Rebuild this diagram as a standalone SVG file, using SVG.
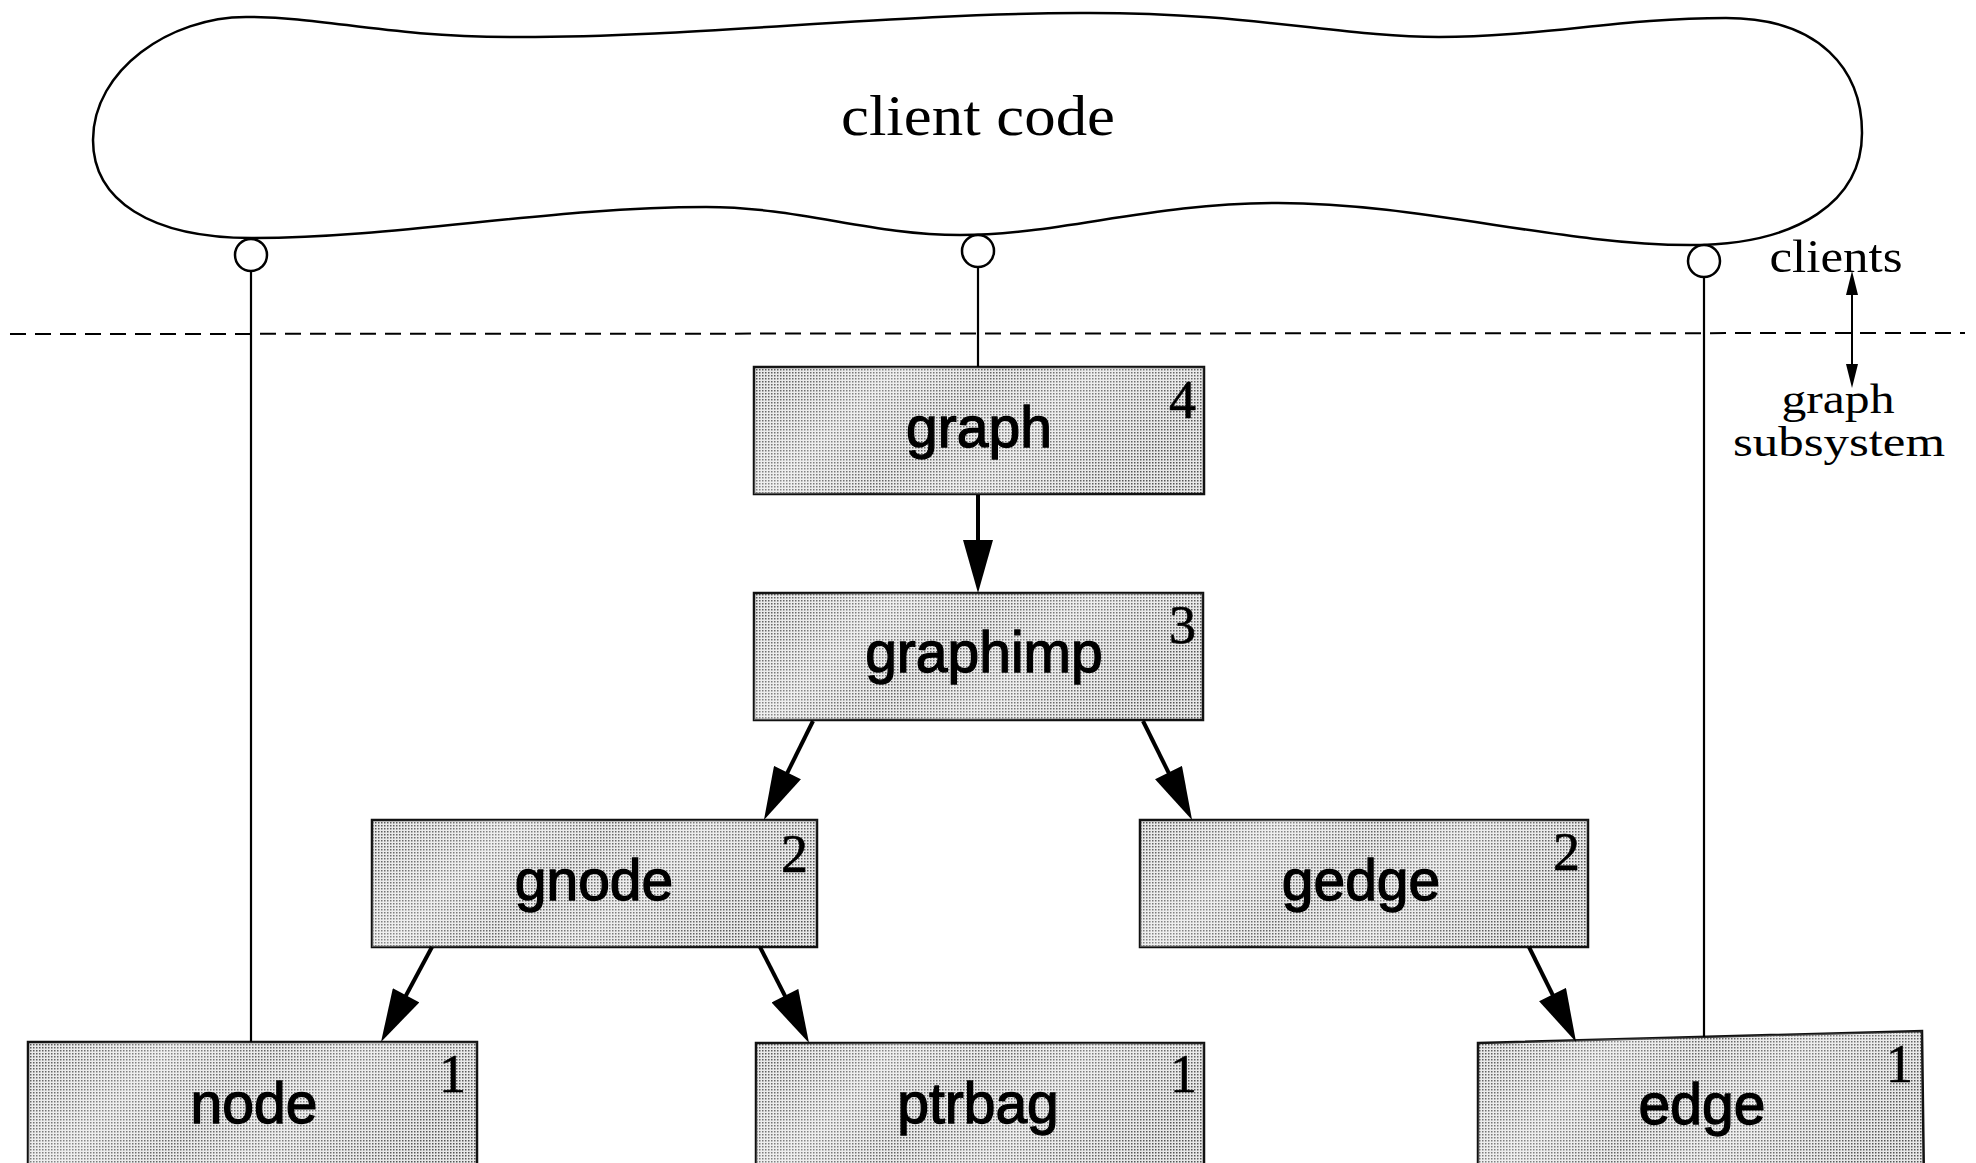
<svg xmlns="http://www.w3.org/2000/svg" width="1976" height="1163" viewBox="0 0 1976 1163">
  <style>
    .outline { fill: none; stroke: #000; stroke-width: 2.5; }
    .box { fill: url(#stipple); stroke: #111; stroke-width: 2.5; }
    .shade { fill: url(#patches); stroke: none; }
    .conn { fill: none; stroke: #000; stroke-width: 2.2; }
    .dep { fill: none; stroke: #000; stroke-width: 4; marker-end: url(#head); }
    .label { font-family: "Liberation Sans", Arial, sans-serif; font-size: 57px; text-anchor: middle; fill: #000; stroke: #000; stroke-width: 1.3; }
    .level { font-family: "Liberation Serif", "Times New Roman", serif; font-size: 54px; text-anchor: end; fill: #000; stroke: #000; stroke-width: 0.6; }
    .serif { font-family: "Liberation Serif", "Times New Roman", serif; fill: #000; text-anchor: middle; }
  </style>
  <defs>
    <pattern id="stipple" patternUnits="userSpaceOnUse" width="3" height="3">
      <rect width="3" height="3" fill="#e8e8e8"/>
      <rect width="1.5" height="1.5" fill="#555"/>
    </pattern>
    <linearGradient id="patches" x1="0" y1="0" x2="1" y2="0.3">
      <stop offset="0" stop-color="#fff" stop-opacity="0"/>
      <stop offset="0.3" stop-color="#fff" stop-opacity="0.3"/>
      <stop offset="0.5" stop-color="#fff" stop-opacity="0.08"/>
      <stop offset="0.7" stop-color="#fff" stop-opacity="0.25"/>
      <stop offset="1" stop-color="#fff" stop-opacity="0"/>
    </linearGradient>
    <marker id="head" markerUnits="userSpaceOnUse" markerWidth="54" markerHeight="30" viewBox="0 0 53 30" refX="38" refY="15" orient="auto">
      <path d="M0,0 L53,15 L0,30 Z" fill="#000"/>
    </marker>
    <marker id="small" markerUnits="userSpaceOnUse" markerWidth="26" markerHeight="12" viewBox="0 0 24 12" refX="18" refY="6" orient="auto-start-reverse">
      <path d="M0,0 L24,6 L0,12 Z" fill="#000"/>
    </marker>
  </defs>

  <g id="client-code">
    <path class="outline" d="M 93,140 C 93,70 170,17 246,17 C 330,17 380,37 520,37 C 700,37 880,14 1080,13 C 1250,12 1340,37 1439,37 C 1540,37 1620,18 1726,18 C 1820,18 1862,70 1862,133 C 1862,200 1800,245 1690,245 C 1560,245 1420,203 1278,203 C 1150,203 1060,235 960,235 C 870,235 800,207 706,207 C 550,207 400,238 252,238 C 150,238 93,200 93,140 Z"/>
    <text class="serif" x="978" y="135" font-size="56" textLength="274" lengthAdjust="spacingAndGlyphs">client code</text>
  </g>

  <g id="layer-divider">
    <line x1="10" y1="334" x2="1965" y2="333" stroke="#000" stroke-width="2" stroke-dasharray="16 9"/>
    <line x1="1852" y1="277" x2="1852" y2="382" stroke="#000" stroke-width="2" marker-start="url(#small)" marker-end="url(#small)"/>
    <text class="serif" x="1836" y="272" font-size="46" textLength="133" lengthAdjust="spacingAndGlyphs">clients</text>
    <text class="serif" x="1838" y="413" font-size="43" textLength="113" lengthAdjust="spacingAndGlyphs">graph</text>
    <text class="serif" x="1839" y="456" font-size="43" textLength="212" lengthAdjust="spacingAndGlyphs">subsystem</text>
  </g>

  <g id="node-graph">
    <rect class="box" x="754" y="367" width="450" height="127"/>
    <rect class="shade" x="754" y="367" width="450" height="127"/>
    <text class="label" x="979" y="447">graph</text>
    <text class="level" x="1196" y="418">4</text>
  </g>
  <g id="node-graphimp">
    <rect class="box" x="754" y="593" width="449" height="127"/>
    <rect class="shade" x="754" y="593" width="449" height="127"/>
    <text class="label" x="984" y="672">graphimp</text>
    <text class="level" x="1196" y="643">3</text>
  </g>
  <g id="node-gnode">
    <rect class="box" x="372" y="820" width="445" height="127"/>
    <rect class="shade" x="372" y="820" width="445" height="127"/>
    <text class="label" x="594" y="900">gnode</text>
    <text class="level" x="808" y="872">2</text>
  </g>
  <g id="node-gedge">
    <rect class="box" x="1140" y="820" width="448" height="127"/>
    <rect class="shade" x="1140" y="820" width="448" height="127"/>
    <text class="label" x="1361" y="900">gedge</text>
    <text class="level" x="1580" y="870">2</text>
  </g>
  <g id="node-node">
    <rect class="box" x="28" y="1042" width="449" height="140"/>
    <rect class="shade" x="28" y="1042" width="449" height="140"/>
    <text class="label" x="254" y="1123">node</text>
    <text class="level" x="466" y="1092">1</text>
  </g>
  <g id="node-ptrbag">
    <rect class="box" x="756" y="1043" width="448" height="140"/>
    <rect class="shade" x="756" y="1043" width="448" height="140"/>
    <text class="label" x="978" y="1123">ptrbag</text>
    <text class="level" x="1197" y="1092">1</text>
  </g>
  <g id="node-edge">
    <path class="box" d="M 1478,1043 L 1922,1031 L 1924,1185 L 1478,1185 Z"/>
    <path class="shade" d="M 1478,1043 L 1922,1031 L 1924,1185 L 1478,1185 Z"/>
    <text class="label" x="1702" y="1124">edge</text>
    <text class="level" x="1913" y="1082">1</text>
  </g>

  <g id="connectors">
    <circle class="outline" cx="251" cy="255" r="16"/>
    <circle class="outline" cx="978" cy="251" r="16"/>
    <circle class="outline" cx="1704" cy="261" r="16"/>
    <line class="conn" x1="251" y1="271" x2="251" y2="1042"/>
    <line class="conn" x1="978" y1="267" x2="978" y2="367"/>
    <line class="conn" x1="1704" y1="277" x2="1704" y2="1037"/>
    <line class="dep" x1="978" y1="495" x2="978" y2="578"/>
    <line class="dep" x1="813" y1="721" x2="770.6" y2="806.6"/>
    <line class="dep" x1="1143" y1="721" x2="1185.4" y2="806.6"/>
    <line class="dep" x1="432" y1="947" x2="388.1" y2="1028.8"/>
    <line class="dep" x1="760" y1="947" x2="802.2" y2="1029.6"/>
    <line class="dep" x1="1529" y1="947" x2="1569.4" y2="1028.6"/>
  </g>
</svg>
